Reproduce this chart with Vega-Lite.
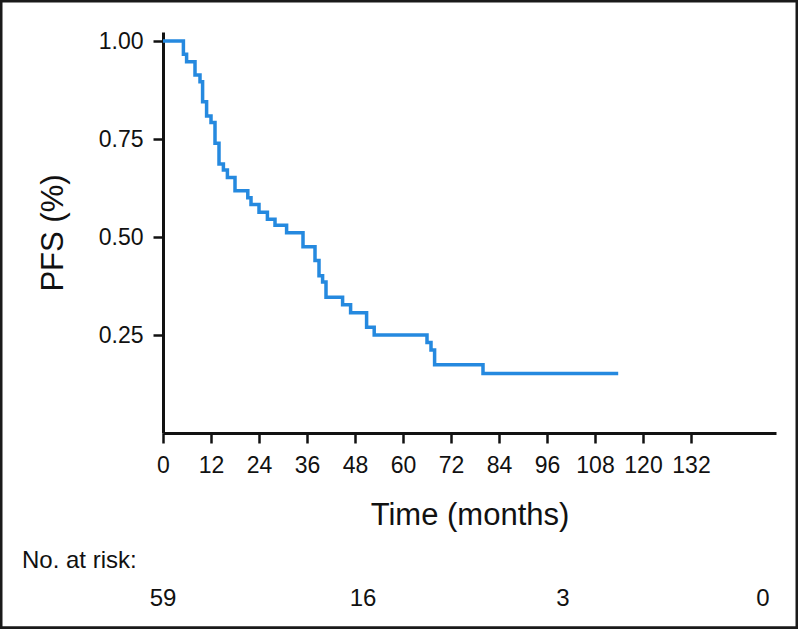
{
  "$schema": "https://vega.github.io/schema/vega-lite/v6.json",
  "width": 613,
  "height": 401,
  "autosize": {"type": "none"},
  "padding": {"left": 163, "top": 32, "right": 22, "bottom": 196},
  "background": "white",
  "config": {
    "view": {"stroke": null},
    "font": "Liberation Sans",
    "axis": {
      "domainColor": "#111",
      "domainWidth": 3,
      "tickColor": "#111",
      "tickWidth": 2.5,
      "tickSize": 10,
      "grid": false,
      "labelColor": "#111",
      "labelFont": "Liberation Sans",
      "labelFontSize": 23,
      "titleColor": "#111",
      "titleFont": "Liberation Sans",
      "titleFontWeight": "normal",
      "titleFontSize": 31
    }
  },
  "layer": [
    {
      "data": {"values": [
        {"t": 0, "s": 1.0}, {"t": 5.1, "s": 0.966}, {"t": 5.9, "s": 0.947}, {"t": 8.0, "s": 0.913},
        {"t": 9.25, "s": 0.896}, {"t": 9.9, "s": 0.845}, {"t": 10.9, "s": 0.809}, {"t": 12.0, "s": 0.792},
        {"t": 13.0, "s": 0.739}, {"t": 14.0, "s": 0.686}, {"t": 15.1, "s": 0.671}, {"t": 16.1, "s": 0.652},
        {"t": 18.0, "s": 0.618}, {"t": 21.2, "s": 0.6}, {"t": 22.0, "s": 0.583}, {"t": 24.0, "s": 0.563},
        {"t": 26.1, "s": 0.545}, {"t": 28.0, "s": 0.53}, {"t": 30.9, "s": 0.511}, {"t": 35.0, "s": 0.475},
        {"t": 38.0, "s": 0.44}, {"t": 39.0, "s": 0.401}, {"t": 39.9, "s": 0.385}, {"t": 40.75, "s": 0.346},
        {"t": 44.9, "s": 0.327}, {"t": 46.9, "s": 0.307}, {"t": 50.9, "s": 0.27}, {"t": 52.8, "s": 0.25},
        {"t": 66.0, "s": 0.231}, {"t": 67.0, "s": 0.212}, {"t": 67.9, "s": 0.174}, {"t": 80.0, "s": 0.152},
        {"t": 113.8, "s": 0.152}
      ]},
      "mark": {"type": "line", "interpolate": "step-after", "color": "#2589DF", "strokeWidth": 3.5},
      "encoding": {
        "x": {
          "field": "t", "type": "quantitative",
          "scale": {"domain": [0, 153.25], "nice": false, "zero": false},
          "axis": {
            "values": [0, 12, 24, 36, 48, 60, 72, 84, 96, 108, 120, 132],
            "title": "Time (months)",
            "labelPadding": 11,
            "labelFlush": false,
            "titlePadding": 23
          }
        },
        "y": {
          "field": "s", "type": "quantitative",
          "scale": {"domain": [0, 1.023], "nice": false, "zero": false},
          "axis": {
            "values": [0.25, 0.5, 0.75, 1.0],
            "format": ".2f",
            "title": "PFS (%)",
            "labelPadding": 10,
            "titlePadding": 29
          }
        }
      }
    },
    {
      "data": {"values": [{"label": "No. at risk:"}]},
      "mark": {"type": "text", "align": "left", "baseline": "alphabetic", "fontSize": 24, "color": "#111"},
      "encoding": {
        "x": {"datum": -35.25, "type": "quantitative"},
        "y": {"datum": -0.344, "type": "quantitative"},
        "text": {"field": "label"}
      }
    },
    {
      "data": {"values": [
        {"t": 0, "n": "59"}, {"t": 50, "n": "16"}, {"t": 100, "n": "3"}, {"t": 150, "n": "0"}
      ]},
      "mark": {"type": "text", "align": "center", "baseline": "alphabetic", "fontSize": 24, "color": "#111"},
      "encoding": {
        "x": {"field": "t", "type": "quantitative"},
        "y": {"datum": -0.441, "type": "quantitative"},
        "text": {"field": "n"}
      }
    },
    {
      "data": {"values": [{"frame": "border"}]},
      "mark": {"type": "rect", "fill": null, "filled": false, "stroke": "#1a1a1a", "strokeWidth": 3},
      "encoding": {
        "x": {"datum": -40.5, "type": "quantitative"},
        "x2": {"datum": 158.5},
        "y": {"datum": -0.497, "type": "quantitative"},
        "y2": {"datum": 1.102}
      }
    }
  ]
}
